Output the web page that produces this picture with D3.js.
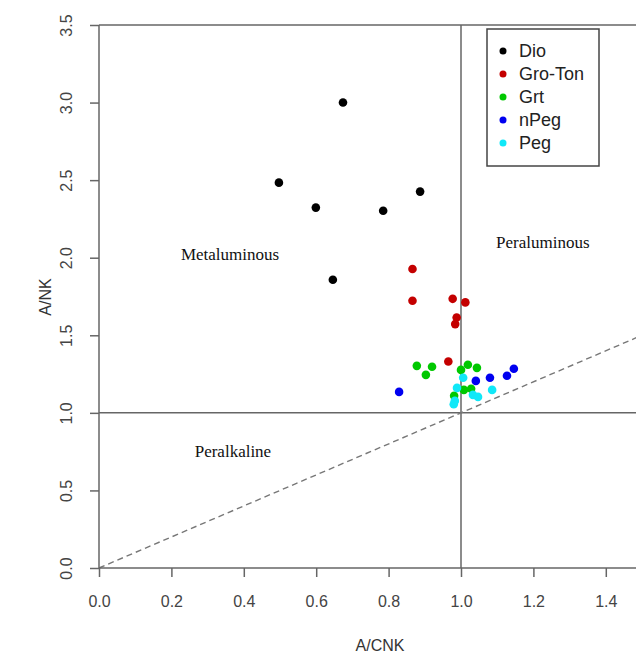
<!DOCTYPE html>
<html>
<head>
<meta charset="utf-8">
<script src="https://cdn.jsdelivr.net/npm/d3@7"></script>
<style>
  body { margin: 0; background: #fff; }
  svg { display: block; }
</style>
</head>
<body>
<div id="chart"></div>
<script>
// A/CNK vs A/NK values, by rock group
const groups = ["Dio", "Gro-Ton", "Grt", "nPeg", "Peg"];
const groupColors = ["#000000", "#c40000", "#00c800", "#0000f0", "#10e8f8"];

const dioACNK = [0.674, 0.497, 0.599, 0.785, 0.887, 0.646];
const dioANK  = [3.000, 2.484, 2.323, 2.303, 2.426, 1.858];

const groACNK = [0.866, 0.866, 0.977, 1.012, 0.988, 0.984, 0.965];
const groANK  = [1.927, 1.723, 1.735, 1.712, 1.615, 1.572, 1.331];

const grtACNK = [0.878, 0.920, 0.903, 1.000, 1.019, 1.044, 1.008, 1.028, 0.981];
const grtANK  = [1.303, 1.297, 1.245, 1.277, 1.310, 1.290, 1.148, 1.155, 1.110];

const npegACNK = [0.829, 1.041, 1.080, 1.127, 1.146];
const npegANK  = [1.135, 1.206, 1.226, 1.239, 1.284];

const pegACNK = [1.006, 0.989, 1.033, 1.047, 0.983, 1.086, 0.980];
const pegANK  = [1.226, 1.161, 1.116, 1.103, 1.077, 1.148, 1.055];

const xTicks = [0.0, 0.2, 0.4, 0.6, 0.8, 1.0, 1.2, 1.4];
const yTicks = [0.0, 0.5, 1.0, 1.5, 2.0, 2.5, 3.0, 3.5];

const fieldLabels = ["Metaluminous", "Peraluminous", "Peralkaline"];
const fieldACNK = [0.362, 1.226, 0.370];
const fieldANK  = [1.985, 2.063, 0.715];

const width = 636, height = 656;
const lineCol = "#666";

const svg = d3.select("#chart").append("svg")
    .attr("width", width)
    .attr("height", height);

const x = d3.scaleLinear().domain([0, 1.5]).range([99, 642]);
const y = d3.scaleLinear().domain([0, 3.5]).range([568, 25]);

// build point table from the arrays
const series = [
    [dioACNK, dioANK], [groACNK, groANK], [grtACNK, grtANK],
    [npegACNK, npegANK], [pegACNK, pegANK]
];
const points = [];
series.forEach((s, g) => {
    s[0].forEach((v, i) => points.push({ g: g, acnk: v, ank: s[1][i] }));
});

// frame: top line, divider lines, 1:1 line
svg.append("line")
    .attr("x1", x(0)).attr("x2", width)
    .attr("y1", y(3.5)).attr("y2", y(3.5))
    .style("stroke", lineCol).style("stroke-width", 1.5);

svg.append("line")
    .attr("x1", x(0)).attr("x2", width)
    .attr("y1", y(1)).attr("y2", y(1))
    .style("stroke", lineCol).style("stroke-width", 1.5);

svg.append("line")
    .attr("x1", x(1)).attr("x2", x(1))
    .attr("y1", y(3.5)).attr("y2", y(0))
    .style("stroke", lineCol).style("stroke-width", 1.5);

svg.append("line")
    .attr("x1", x(0)).attr("y1", y(0))
    .attr("x2", x(1.5)).attr("y2", y(1.5))
    .style("stroke", "#777")
    .style("stroke-width", 1.4)
    .style("stroke-dasharray", "6,4");

// axes
const xAxis = d3.axisBottom(x)
    .tickValues(xTicks)
    .tickFormat(d3.format(".1f"))
    .tickSize(9)
    .tickSizeOuter(0);

const gx = svg.append("g")
    .attr("transform", `translate(0,${y(0)})`)
    .call(xAxis);
gx.select(".domain").remove();
gx.append("line")
    .attr("x1", x(0)).attr("x2", width)
    .style("stroke", lineCol).style("stroke-width", 1.5);
gx.selectAll(".tick line").style("stroke", lineCol).style("stroke-width", 1.5);
gx.selectAll(".tick text")
    .attr("y", 28)
    .style("font-family", "Arial, 'Liberation Sans', sans-serif")
    .style("font-size", "16px")
    .style("fill", "#444");

const yAxis = d3.axisLeft(y)
    .tickValues(yTicks)
    .tickFormat(d3.format(".1f"))
    .tickSize(9)
    .tickSizeOuter(0);

const gy = svg.append("g")
    .attr("transform", `translate(${x(0)},0)`)
    .call(yAxis);
gy.select(".domain").remove();
gy.append("line")
    .attr("y1", y(3.5)).attr("y2", y(0))
    .style("stroke", lineCol).style("stroke-width", 1.5);
gy.selectAll(".tick line").style("stroke", lineCol).style("stroke-width", 1.5);
gy.selectAll(".tick text")
    .attr("transform", "rotate(-90)")
    .attr("x", 0)
    .attr("y", -27)
    .attr("dy", null)
    .attr("text-anchor", "middle")
    .style("font-family", "Arial, 'Liberation Sans', sans-serif")
    .style("font-size", "16px")
    .style("fill", "#444");

// axis titles
svg.append("text")
    .attr("x", 380).attr("y", 651)
    .attr("text-anchor", "middle")
    .style("font-family", "Arial, 'Liberation Sans', sans-serif")
    .style("font-size", "16px")
    .style("fill", "#333")
    .text("A/CNK");

svg.append("text")
    .attr("transform", "translate(51,297) rotate(-90)")
    .attr("text-anchor", "middle")
    .style("font-family", "Arial, 'Liberation Sans', sans-serif")
    .style("font-size", "16px")
    .style("fill", "#333")
    .text("A/NK");

// field names
svg.selectAll(".field")
    .data(fieldLabels)
    .enter()
    .append("text")
    .attr("class", "field")
    .attr("x", (d, i) => x(fieldACNK[i]))
    .attr("y", (d, i) => y(fieldANK[i]))
    .attr("text-anchor", "middle")
    .style("font-family", "'Liberation Serif', 'DejaVu Serif', serif")
    .style("font-size", "17px")
    .style("fill", "#111")
    .text(d => d);

// points
svg.append("g")
    .selectAll("circle")
    .data(points)
    .enter()
    .append("circle")
    .attr("cx", d => x(d.acnk))
    .attr("cy", d => y(d.ank))
    .attr("r", 4.3)
    .style("fill", d => groupColors[d.g]);

// legend
const legX = 487, legY = 29, legW = 112, legH = 137;
svg.append("rect")
    .attr("x", legX).attr("y", legY)
    .attr("width", legW).attr("height", legH)
    .style("fill", "#fff")
    .style("stroke", "#444")
    .style("stroke-width", 1.5);

const leg = svg.append("g")
    .selectAll("g")
    .data(groups)
    .enter()
    .append("g")
    .attr("transform", (d, i) => `translate(${legX}, ${legY + 22 + i * 23})`);

leg.append("circle")
    .attr("cx", 16).attr("cy", 0)
    .attr("r", 3.5)
    .style("fill", (d, i) => groupColors[i]);

leg.append("text")
    .attr("x", 32).attr("y", 6)
    .style("font-family", "Arial, 'Liberation Sans', sans-serif")
    .style("font-size", "18px")
    .style("fill", "#222")
    .text(d => d);
</script>
</body>
</html>
